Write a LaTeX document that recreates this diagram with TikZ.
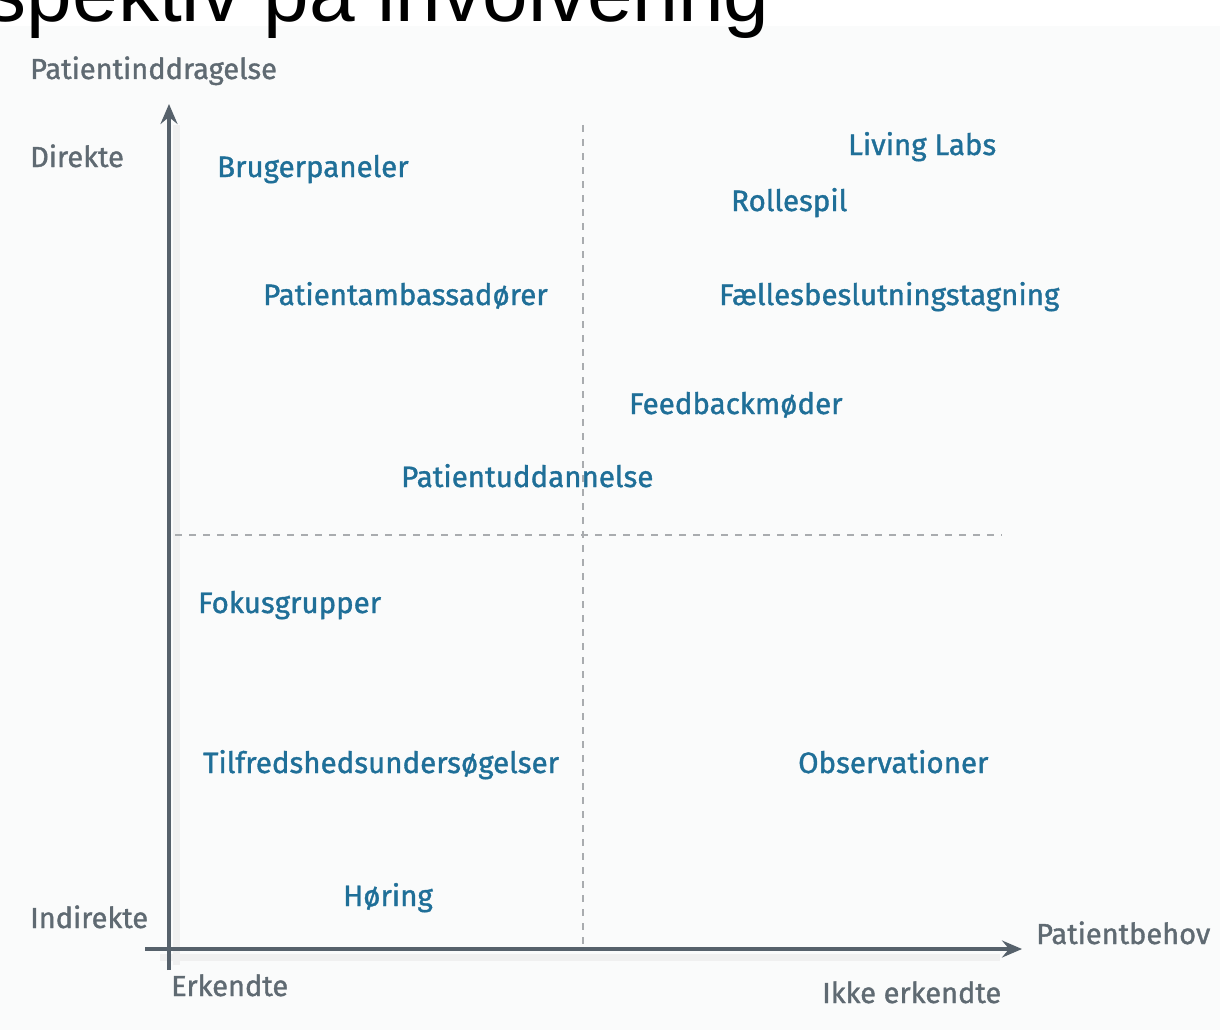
\documentclass[tikz,border=0pt]{standalone}
\usepackage{fontspec}
\setmainfont{Fira Sans}
\newfontfamily\labelfont{Fira Sans}[FakeBold=1.2]
\newfontfamily\titlefont{Liberation Sans}
\usetikzlibrary{arrows.meta}

\definecolor{axisgray}{HTML}{56616B}
\definecolor{labelgray}{HTML}{5F6A72}
\definecolor{itemblue}{HTML}{1F6F98}
\definecolor{dashgray}{HTML}{A9ACAF}
\definecolor{bggray}{HTML}{FAFBFB}

\tikzset{
	method/.style={
		anchor=base west,
		inner sep=0pt,
		text=itemblue,
		font=\labelfont\fontsize{29.5}{34}\selectfont,
	},
	axislabel/.style={
		anchor=base west,
		inner sep=0pt,
		text=labelgray,
		font=\labelfont\fontsize{29}{34}\selectfont,
	},
	axisline/.style={
		draw=axisgray, line width=4.5pt,
		-{Stealth[length=20pt, width=17pt, inset=7pt]},
	},
	shadowline/.style={draw=black!6, line width=7pt},
	divider/.style={draw=dashgray, line width=2pt, dash pattern=on 7pt off 7pt},
}

\begin{document}
\begin{tikzpicture}[x=1pt, y=-1pt]
	\useasboundingbox[fill=bggray] (0,0) rectangle (1220,1030);
	\fill[white] (0,0) rectangle (1220,26);

	% cut-off title
	\node[anchor=base east, inner sep=0pt, font=\titlefont\fontsize{82}{86}\selectfont](TITLE) at (770,22){Perspektiv på involvering};

	% axes
	\coordinate(O) at (169,949);
	\coordinate(YB) at (169,970);
	\coordinate(YT) at (169,104);
	\coordinate(XL) at (145,949);
	\coordinate(XR) at (1022,949);

	\draw[shadowline] (176,965) -- (176,125);
	\draw[shadowline] (160,957) -- (1000,957);

	% dividers
	\coordinate(VT) at (583,125);
	\coordinate(VB) at (583,945);
	\coordinate(HL) at (175,535);
	\coordinate(HR) at (1002,535);
	\draw[divider] (VT) -- (VB);
	\draw[divider] (HL) -- (HR);

	\draw[axisline] (YB) -- (YT);
	\draw[axisline] (XL) -- (XR);

	% axis labels
	\node[axislabel](YNAME) at (30,79){Patientinddragelse};
	\node[axislabel](YHI) at (30,167){Direkte};
	\node[axislabel](YLO) at (30,928){Indirekte};
	\node[axislabel](XLO) at (171,996){Erkendte};
	\node[axislabel](XHI) at (822,1003){Ikke erkendte};
	\node[axislabel](XNAME) at (1036,944){Patientbehov};

	% methods
	\node[method](BP) at (217,177){Brugerpaneler};
	\node[method](LL) at (848,155){Living Labs};
	\node[method](RS) at (731,211){Rollespil};
	\node[method](PA) at (263,305){Patientambassadører};
	\node[method](FB) at (719,305){Fællesbeslutningstagning};
	\node[method](FM) at (629,414){Feedbackmøder};
	\node[method](PU) at (401,487){Patientuddannelse};
	\node[method](FG) at (198,613){Fokusgrupper};
	\node[method](TU) at (203,773){Tilfredshedsundersøgelser};
	\node[method](OB) at (798,773){Observationer};
	\node[method](HO) at (343,906){Høring};
\end{tikzpicture}
\end{document}
